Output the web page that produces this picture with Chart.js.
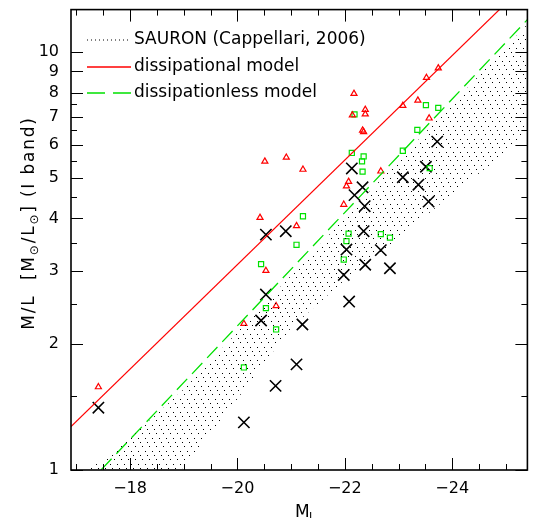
<!DOCTYPE html>
<html>
<head>
<meta charset="utf-8">
<script src="https://cdn.jsdelivr.net/npm/chart.js@4.4.1/dist/chart.umd.min.js"></script>
<style>
  html, body { margin: 0; padding: 0; background: #fff; }
  #ml-chart { display: block; }
</style>
</head>
<body>
<canvas id="ml-chart" width="537" height="518"></canvas>
<script>
// ---- data: M_I (x) vs M/L in I band (y, log) ----
const crossMag = [-17.41, -20.12, -20.71, -21.10, -21.21, -20.44, -20.53, -20.53, -20.90,
                  -22.13, -22.33, -22.18, -22.37, -23.72, -23.51, -23.08, -23.37, -23.56,
                  -22.35, -22.03, -22.67, -22.38, -22.84, -21.98, -22.08];
const crossML  = [1.41, 1.30, 1.59, 1.79, 2.23, 2.28, 2.63, 3.66, 3.73,
                  5.27, 4.75, 4.55, 4.28, 6.11, 5.32, 5.02, 4.82, 4.39,
                  3.73, 3.37, 3.36, 3.10, 3.04, 2.93, 2.53];

const triMag = [-17.41, -20.12, -20.53, -20.42, -21.10, -20.72, -20.51, -20.91, -21.22,
                -21.98, -22.03, -22.07, -22.67, -22.17, -22.14, -22.38, -22.38, -22.33,
                -22.35, -23.08, -23.36, -23.52, -23.74, -23.57];
const triML  = [1.58, 2.24, 3.00, 4.02, 3.84, 2.47, 5.48, 5.60, 5.24,
                4.32, 4.78, 4.90, 5.19, 7.96, 7.07, 7.29, 7.11, 6.50,
                6.45, 7.45, 7.67, 8.69, 9.16, 6.95];

const sqMag = [-22.18, -22.13, -22.35, -22.32, -22.33, -23.51, -23.74, -23.35, -23.08,
               -23.58, -21.22, -21.10, -22.07, -22.03, -21.98, -22.67, -22.84, -20.44,
               -20.53, -20.72, -20.12];
const sqML  = [7.10, 5.74, 5.63, 5.48, 5.18, 7.47, 7.36, 6.52, 5.81,
               5.28, 4.05, 3.46, 3.68, 3.53, 3.19, 3.67, 3.60, 3.11,
               2.44, 2.17, 1.76];

// model lines
const dissipMag = [-16.9, -25.4];
const dissipML  = [1.27, 14.7];
const dissipLessMag = [-16.9, -25.4];
const dissipLessML  = [0.84, 11.97];

// SAURON band (Cappellari 2006), upper and lower edges
const sauronMag   = [-16.9, -18, -19, -20, -21, -22, -23, -24, -25.4];
const sauronUpper = [0.93, 1.19, 1.56, 2.14, 2.92, 4.01, 5.50, 7.52, 11.67];
const sauronLower = [0.45, 0.72, 1.02, 1.48, 2.19, 2.85, 3.59, 4.57, 6.31];

// axes
const xTickValues = [-18, -20, -22, -24];
const yTickValues = [1, 2, 3, 4, 5, 6, 7, 8, 9, 10];
const yMinorTicks = [1.5, 2.5, 3.5, 4.5, 5.5, 6.5, 7.5];

const legendLabels = ['SAURON (Cappellari, 2006)', 'dissipational model', 'dissipationless model'];

const RED = '#ff0000';
const GREEN = 'rgb(0,225,0)';

const toPts = (xs, ys) => xs.map((v, i) => ({ x: v, y: ys[i] }));

function makeHatch(ctx) {
    // dotted "\" hatching like the original plot
    const tile = document.createElement('canvas');
    tile.width = 7;
    tile.height = 13;
    const c = tile.getContext('2d');
    c.fillStyle = '#000';
    [[0, 0], [2, 4], [5, 9]].forEach(([px, py]) => c.fillRect(px, py, 1, 1));
    return ctx.createPattern(tile, 'repeat');
}

const FONT = '"DejaVu Sans", sans-serif';

const frameAndText = {
    id: 'frameAndText',
    afterDraw(chart) {
        const { ctx, chartArea: a, scales: { x, y } } = chart;
        ctx.save();
        ctx.strokeStyle = '#000';
        ctx.fillStyle = '#000';

        const seg = (x1, y1, x2, y2) => {
            ctx.beginPath();
            ctx.moveTo(x1, y1);
            ctx.lineTo(x2, y2);
            ctx.stroke();
        };

        // inward ticks, x (every 0.5 mag, long on labelled ones)
        ctx.lineWidth = 1;
        for (let v = -17; v >= -25; v -= 0.5) {
            const px = Math.round(x.getPixelForValue(v)) + 0.5;
            const len = xTickValues.includes(v) ? 12 : 6;
            seg(px, a.bottom, px, a.bottom - len);
            seg(px, a.top, px, a.top + len);
        }
        // y ticks
        yTickValues.forEach((v) => {
            const py = Math.round(y.getPixelForValue(v)) + 0.5;
            seg(a.left, py, a.left + 12, py);
            seg(a.right, py, a.right - 12, py);
        });
        yMinorTicks.forEach((v) => {
            const py = Math.round(y.getPixelForValue(v)) + 0.5;
            seg(a.left, py, a.left + 6, py);
            seg(a.right, py, a.right - 6, py);
        });

        // frame
        ctx.lineWidth = 1.6;
        ctx.strokeRect(a.left, a.top, a.right - a.left, a.bottom - a.top);

        // tick labels
        ctx.font = '16px ' + FONT;
        ctx.textAlign = 'center';
        ctx.textBaseline = 'middle';
        xTickValues.forEach((v) => {
            ctx.fillText('\u2212' + Math.abs(v), x.getPixelForValue(v), 489);
        });
        ctx.textAlign = 'right';
        yTickValues.forEach((v) => {
            ctx.fillText(String(v), 59, y.getPixelForValue(v));
        });

        // x title: M_I
        ctx.textAlign = 'left';
        ctx.textBaseline = 'alphabetic';
        ctx.font = '17px ' + FONT;
        ctx.fillText('M', 295, 517);
        ctx.font = '11px ' + FONT;
        ctx.fillText('I', 309, 520);

        // y title, rotated: M/L [M⊙/L⊙] (I band)
        const parts = [
            ['M/L  [M', false], ['\u2299', true], ['/L', false], ['\u2299', true], ['] (I band)', false]
        ];
        const big = '17px ' + FONT;
        const small = '12px ' + FONT;
        ctx.letterSpacing = '1.8px';
        let total = 0;
        parts.forEach(([t, sub]) => {
            ctx.font = sub ? small : big;
            total += ctx.measureText(t).width;
        });
        ctx.translate(34, 223);
        ctx.rotate(-Math.PI / 2);
        let cx = -total / 2;
        parts.forEach(([t, sub]) => {
            ctx.font = sub ? small : big;
            ctx.fillText(t, cx, sub ? 4 : 0);
            cx += ctx.measureText(t).width;
        });
        ctx.setTransform(1, 0, 0, 1, 0, 0);
        ctx.letterSpacing = '0px';

        // legend inside the plot
        const rows = [40, 67, 93];
        ctx.font = '17px ' + FONT;
        ctx.textBaseline = 'middle';
        ctx.textAlign = 'left';
        const styles = [
            { color: '#000', dash: [1, 3], width: 1 },
            { color: RED, dash: [], width: 1.3 },
            { color: GREEN, dash: [18, 8], width: 1.4 }
        ];
        rows.forEach((ry, i) => {
            ctx.strokeStyle = styles[i].color;
            ctx.lineWidth = styles[i].width;
            ctx.setLineDash(styles[i].dash);
            seg(87, ry, 131, ry);
            ctx.setLineDash([]);
            ctx.fillStyle = '#000';
            ctx.fillText(legendLabels[i], 134, ry);
        });
        ctx.restore();
    }
};

const canvas = document.getElementById('ml-chart');
const ctx = canvas.getContext('2d');

new Chart(ctx, {
    type: 'scatter',
    data: {
        datasets: [
            {
                label: 'SAURON upper',
                type: 'line',
                data: toPts(sauronMag, sauronUpper),
                borderWidth: 0,
                borderColor: 'rgba(0,0,0,0)',
                pointRadius: 0,
                fill: false
            },
            {
                label: legendLabels[0],
                type: 'line',
                data: toPts(sauronMag, sauronLower),
                borderWidth: 0,
                borderColor: 'rgba(0,0,0,0)',
                pointRadius: 0,
                fill: '-1',
                backgroundColor: makeHatch(ctx)
            },
            {
                label: legendLabels[1],
                type: 'line',
                data: toPts(dissipMag, dissipML),
                borderColor: RED,
                borderWidth: 1.2,
                pointRadius: 0,
                fill: false
            },
            {
                label: legendLabels[2],
                type: 'line',
                data: toPts(dissipLessMag, dissipLessML),
                borderColor: GREEN,
                borderWidth: 1.3,
                borderDash: [15, 7],
                pointRadius: 0,
                fill: false
            },
            {
                label: 'dissipational (galaxies)',
                data: toPts(triMag, triML),
                pointStyle: 'triangle',
                pointRadius: 3.5,
                borderColor: RED,
                backgroundColor: 'rgba(0,0,0,0)',
                borderWidth: 1.2
            },
            {
                label: 'dissipationless (galaxies)',
                data: toPts(sqMag, sqML),
                pointStyle: 'rect',
                pointRadius: 3.6,
                borderColor: GREEN,
                backgroundColor: 'rgba(0,0,0,0)',
                borderWidth: 1.2
            },
            {
                label: 'observed',
                data: toPts(crossMag, crossML),
                pointStyle: 'crossRot',
                pointRadius: 8,
                borderColor: '#000',
                borderWidth: 1.6
            }
        ]
    },
    options: {
        responsive: false,
        animation: false,
        layout: { padding: { left: 71, right: 1, top: 6, bottom: 48 } },
        scales: {
            x: { type: 'linear', reverse: true, min: -25.4, max: -16.9, display: false },
            y: { type: 'logarithmic', min: 1, max: 12.65, display: false }
        },
        plugins: {
            legend: { display: false },
            tooltip: { enabled: false }
        }
    },
    plugins: [frameAndText]
});
</script>
</body>
</html>
